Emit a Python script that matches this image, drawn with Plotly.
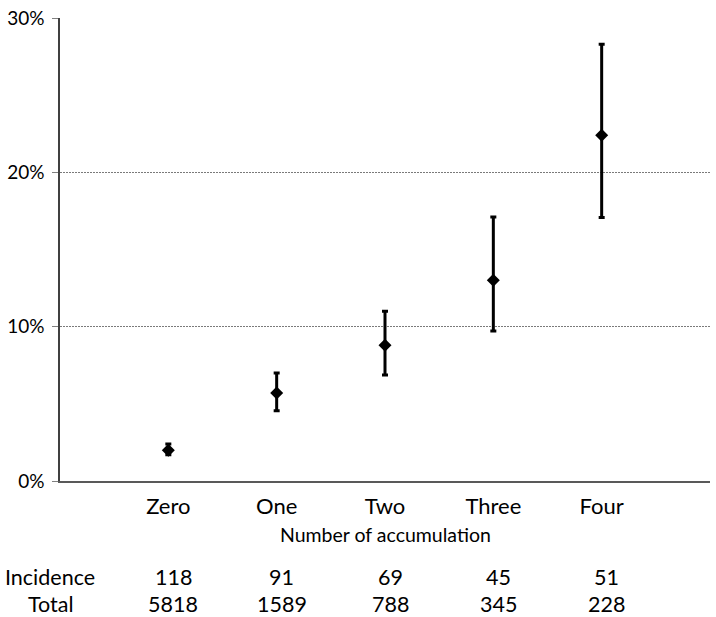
import plotly.graph_objects as go

categories = ["Zero", "One", "Two", "Three", "Four"]
rate = [2.0, 5.7, 8.8, 13.0, 22.4]          # percent
upper = [2.4, 7.0, 11.0, 17.1, 28.3]        # percent
lower = [1.7, 4.55, 6.87, 9.72, 17.08]      # percent
incidence = [118, 91, 69, 45, 51]
total = [5818, 1589, 788, 345, 228]
ytick_vals = [0, 0.1, 0.2, 0.3]

xpos = list(range(len(categories)))
y = [r / 100 for r in rate]
err_plus = [(u - r) / 100 for u, r in zip(upper, rate)]
err_minus = [(r - l) / 100 for r, l in zip(rate, lower)]

FONT = "Lato, Calibri, Carlito, sans-serif"

fig = go.Figure()
fig.add_trace(go.Scatter(
    x=xpos, y=y, mode="markers",
    marker=dict(symbol="diamond", size=10, color="black"),
    error_y=dict(type="data", symmetric=False, array=err_plus, arrayminus=err_minus,
                 color="black", thickness=3, width=3),
    showlegend=False, hoverinfo="skip",
))

annotations = []
annotations.append(dict(text="Number of accumulation", x=2, xref="x", y=-0.116, yref="paper",
                        showarrow=False, font=dict(size=19.5, color="black", family=FONT),
                        xanchor="center", yanchor="middle"))
annotations.append(dict(text="Incidence", x=-1.0, xref="x", y=-0.208, yref="paper",
                        showarrow=False, font=dict(size=21.5, color="black", family=FONT),
                        xanchor="center", yanchor="middle", xshift=-10))
annotations.append(dict(text="Total", x=-1.0, xref="x", y=-0.266, yref="paper",
                        showarrow=False, font=dict(size=21.5, color="black", family=FONT),
                        xanchor="center", yanchor="middle", xshift=-9))
for xi, inc, tot in zip(xpos, incidence, total):
    annotations.append(dict(text=str(inc), x=xi, xref="x", y=-0.208, yref="paper",
                            showarrow=False, font=dict(size=21.5, color="black", family=FONT),
                            xanchor="center", yanchor="middle", xshift=5))
    annotations.append(dict(text=str(tot), x=xi, xref="x", y=-0.266, yref="paper",
                            showarrow=False, font=dict(size=21.5, color="black", family=FONT),
                            xanchor="center", yanchor="middle", xshift=5))

fig.update_layout(
    width=716, height=617,
    margin=dict(l=60, r=6, t=15, b=136),
    paper_bgcolor="white", plot_bgcolor="white",
    font=dict(family=FONT, color="black"),
    annotations=annotations,
    xaxis=dict(
        range=[-1, 5], tickvals=xpos, ticktext=categories,
        tickfont=dict(size=22, color="black", family=FONT),
        showgrid=False, zeroline=False, showline=True, linecolor="#595959", linewidth=1.5,
        ticks="", ticklen=0, ticklabelstandoff=5,
    ),
    yaxis=dict(
        range=[0, 0.30], tickvals=ytick_vals, tickformat=".0%",
        tickfont=dict(size=19, color="black", family=FONT),
        showgrid=True, gridcolor="#7a7a7a", griddash="2px,1px", gridwidth=1,
        zeroline=False, showline=True, linecolor="#404040", linewidth=1.5,
        ticks="outside", ticklen=6, tickcolor="#808080", tickwidth=1,
        ticklabelstandoff=4,
    ),
)

fig.write_html("out.html", config={"displayModeBar": False},
               post_script="document.body.style.margin='0';document.body.style.overflow='hidden';")
